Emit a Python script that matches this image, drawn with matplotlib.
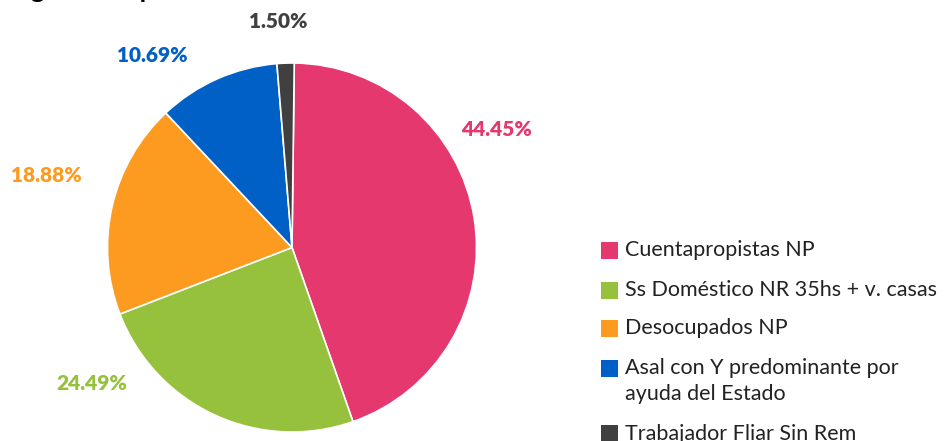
import matplotlib
matplotlib.use("Agg")
import matplotlib.pyplot as plt
from matplotlib.patches import Rectangle

plt.rcParams['font.family'] = ['Lato', 'DejaVu Sans']

# data
categories = ["Cuentapropistas NP",
              "Ss Doméstico NR 35hs + v. casas",
              "Desocupados NP",
              "Asal con Y predominante por\nayuda del Estado",
              "Trabajador Fliar Sin Rem"]
shares = [44.45, 24.49, 18.88, 10.69, 1.50]
colors = ["#E4386E", "#96C13D", "#FD9B20", "#0060C6", "#404040"]
title = "Región Pampeana"

# layout (pixels)
W, H = 945, 441
cx, cy, R = 292, 247.5, 184.5
# label positions (pixel centres) as the original renderer placed them
label_px = [(497, 129), (92, 383), (46, 176), (152, 55), (278, 22)]

fig = plt.figure(figsize=(W / 100, H / 100), dpi=100)
ax = fig.add_axes([0, 0, 1, 1])
ax.set_axis_off()

ax.pie(shares, colors=colors, startangle=89.3, counterclock=False, radius=1,
       wedgeprops=dict(edgecolor='white', linewidth=1.2))
ax.set_xlim(-cx / R, (W - cx) / R)
ax.set_ylim(-(H - cy) / R, cy / R)
ax.set_aspect('auto')

for val, col, (px, py) in zip(shares, colors, label_px):
    ax.text((px - cx) / R, (cy - py) / R, "{:.2f}%".format(val), color=col,
            fontsize=15, fontweight='heavy', ha='center', va='center')

# title, mostly cut off at top
fig.text(0.0, 1 + 2 / H, title, fontsize=19, fontweight='bold', color='black',
         ha='left', va='baseline')

# legend
y = 250.5
for cat, col in zip(categories, colors):
    fig.patches.append(Rectangle((601 / W, 1 - (y + 8.5) / H), 17 / W, 17 / H,
                                 transform=fig.transFigure, facecolor=col,
                                 edgecolor='none'))
    lines = cat.split("\n")
    for i, line in enumerate(lines):
        fig.text(625 / W, 1 - (y + 25 * i) / H, line, fontsize=15.5, color='#222222',
                 ha='left', va='center')
    y += 40 + 25 * (len(lines) - 1) - (2 if cat == categories[1] else 0)

fig.savefig("out.png", dpi=100, facecolor='white')
